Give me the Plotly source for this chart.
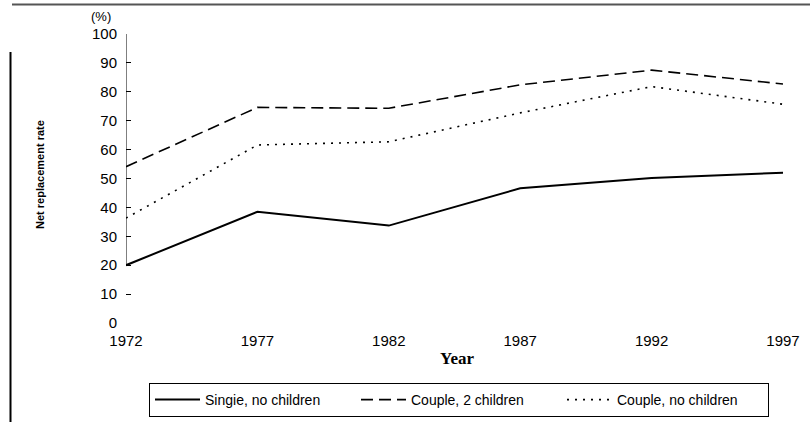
import plotly.graph_objects as go

years = [1972, 1977, 1982, 1987, 1992, 1997]
single_no_children = [20, 38.5, 33.7, 46.6, 50.2, 52.0]
couple_2_children = [54.1, 74.6, 74.3, 82.4, 87.5, 82.7]
couple_no_children = [36.3, 61.6, 62.7, 72.7, 81.8, 75.7]
series_names = ["Singie, no children", "Couple, 2 children", "Couple, no children"]
y_ticks = list(range(0, 101, 10))

W, H = 810, 422
L, R, T, B = 126, 27, 34, 99
PW, PH = W - L - R, H - T - B


def px_x(px):
    return (px - L) / PW


def px_y(py):
    return (H - B - py) / PH


fig = go.Figure()
fig.add_trace(go.Scatter(x=years, y=single_no_children, mode="lines", name=series_names[0],
                         line=dict(color="black", width=2)))
fig.add_trace(go.Scatter(x=years, y=couple_2_children, mode="lines", name=series_names[1],
                         line=dict(color="black", width=1.6, dash="12px,6px")))
fig.add_trace(go.Scatter(x=years, y=couple_no_children, mode="lines", name=series_names[2],
                         line=dict(color="black", width=1.6, dash="2px,6px")))

font = "Arial, 'Liberation Sans', sans-serif"

fig.update_layout(
    width=W, height=H,
    margin=dict(l=L, r=R, t=T, b=B, pad=0, autoexpand=False),
    paper_bgcolor="white", plot_bgcolor="white",
    font=dict(family=font, color="black", size=15),
    showlegend=True,
    legend=dict(
        orientation="h", x=px_x(149), y=px_y(383), xanchor="left", yanchor="top",
        bordercolor="black", borderwidth=1, bgcolor="white",
        font=dict(size=14, family=font),
        itemwidth=45, entrywidth=146, entrywidthmode="pixels",
        traceorder="normal", tracegroupgap=0,
    ),
    xaxis=dict(
        range=[years[0], years[-1]], tickvals=years, ticktext=[str(y) for y in years],
        showgrid=False, zeroline=False, showline=False, ticks="",
        tickfont=dict(size=15), ticklabelstandoff=7,
    ),
    yaxis=dict(
        range=[0, 100], tickvals=y_ticks, showgrid=False, zeroline=False, showline=False,
        ticks="inside", ticklen=5, tickcolor="black", tickwidth=1,
        tickfont=dict(size=15), ticklabelstandoff=8,
    ),
    annotations=[
        dict(text="<b>Year</b>", xref="paper", yref="paper", x=px_x(457), y=px_y(358),
             xanchor="center", yanchor="middle", showarrow=False,
             font=dict(family="'Times New Roman', 'Liberation Serif', serif", size=17)),
        dict(text="<b>Net replacement rate</b>", xref="paper", yref="paper", x=px_x(40), y=px_y(175),
             xanchor="center", yanchor="middle", showarrow=False, textangle=-90,
             font=dict(family=font, size=11)),
        dict(text="(%)", xref="paper", yref="paper", x=px_x(101), y=px_y(17),
             xanchor="center", yanchor="middle", showarrow=False,
             font=dict(family=font, size=13)),
    ],
    shapes=[
        # y axis line (drawn only from 20 to 100 as in the original)
        dict(type="line", xref="x", yref="y", x0=years[0], x1=years[0], y0=20, y1=100,
             line=dict(color="black", width=1)),
        # outer frame remnants
        dict(type="line", xref="paper", yref="paper", x0=px_x(12), x1=px_x(810), y0=px_y(4.5), y1=px_y(4.5),
             line=dict(color="#555555", width=2)),
        dict(type="line", xref="paper", yref="paper", x0=px_x(10.5), x1=px_x(10.5), y0=px_y(52), y1=px_y(422),
             line=dict(color="black", width=2)),
    ],
)

fig.write_html("out.html", config={"displayModeBar": False},
               post_script="document.body.style.margin='0';")
